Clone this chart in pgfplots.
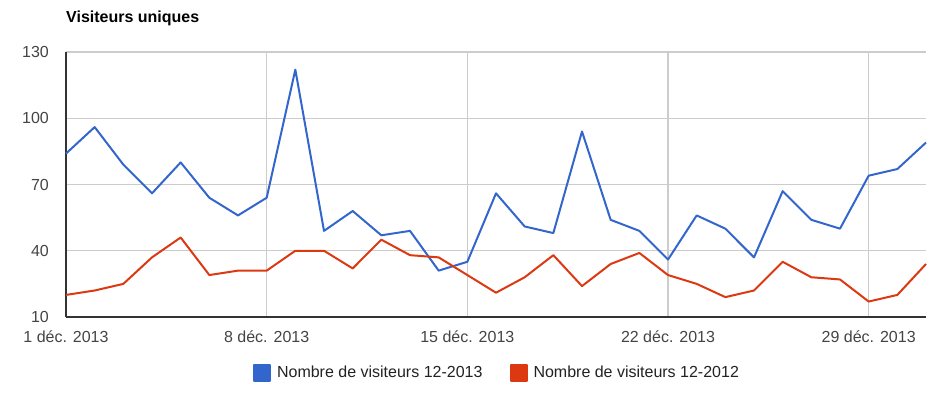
\documentclass[border=0pt]{standalone}
\usepackage{fontspec}
\setmainfont{Liberation Sans}
\usepackage{pgfplots}
\pgfplotsset{compat=1.18}
\definecolor{c1}{HTML}{3366CC}
\definecolor{c2}{HTML}{DC3912}
\definecolor{gridc}{HTML}{CCCCCC}
\definecolor{axc}{HTML}{333333}
\definecolor{txt}{HTML}{444444}
\definecolor{txtl}{HTML}{222222}
\begin{document}
\begin{tikzpicture}[x=1bp,y=1bp]
\useasboundingbox (0,0) rectangle (950,392);
\node[anchor=base west, font=\fontsize{16bp}{19bp}\selectfont\bfseries, inner sep=0pt] at (66,370) {Visiteurs uniques};
\begin{axis}[
  at={(66bp,75bp)}, anchor=south west,
  scale only axis, width=860bp, height=265bp,
  xmin=1, xmax=31, ymin=10, ymax=130,
  ytick={10,40,70,100,130},
  xtick={1,8,15,22,29},
  xticklabels={1 déc. 2013, 8 déc. 2013, 15 déc. 2013, 22 déc. 2013, 29 déc. 2013},
  /pgf/number format/assume math mode=true,
  axis x line*=bottom, axis y line*=left,
  axis line style={draw=axc, line width=1.3bp, -},
  major tick length=0pt,
  grid=major,
  major grid style={draw=gridc, line width=1.2bp},
  tick label style={font=\fontsize{16bp}{19bp}\selectfont, text=txt},
  yticklabel style={anchor=east, inner sep=0pt, xshift=-17bp},
  xticklabel style={anchor=north, inner sep=0pt, yshift=-13.5bp},
  legend style={draw=none, fill=none, at={(0.5,-0.211)}, anchor=center,
    font=\fontsize{16bp}{19bp}\selectfont, text=txtl,
    nodes={inner sep=0pt},
    /tikz/every even column/.append style={column sep=27bp},
    /tikz/every odd column/.append style={column sep=6bp}},
  legend columns=2,
  legend image code/.code={\fill (0bp,-8bp) rectangle (16bp,8bp);},
  clip=false,
]
\addplot[color=c1, line width=2bp, line join=round, mark=none] coordinates {
(1,84) (2,96) (3,79) (4,66) (5,80) (6,64) (7,56) (8,64) (9,122) (10,49)
(11,58) (12,47) (13,49) (14,31) (15,35) (16,66) (17,51) (18,48) (19,94) (20,54)
(21,49) (22,36) (23,56) (24,50) (25,37) (26,67) (27,54) (28,50) (29,74) (30,77) (31,89)
};
\addlegendentry{Nombre de visiteurs 12-2013}
\addplot[color=c2, line width=2bp, line join=round, mark=none] coordinates {
(1,20) (2,22) (3,25) (4,37) (5,46) (6,29) (7,31) (8,31) (9,40) (10,40)
(11,32) (12,45) (13,38) (14,37) (15,29) (16,21) (17,28) (18,38) (19,24) (20,34)
(21,39) (22,29) (23,25) (24,19) (25,22) (26,35) (27,28) (28,27) (29,17) (30,20) (31,34)
};
\addlegendentry{Nombre de visiteurs 12-2012}
\end{axis}
\end{tikzpicture}
\end{document}
